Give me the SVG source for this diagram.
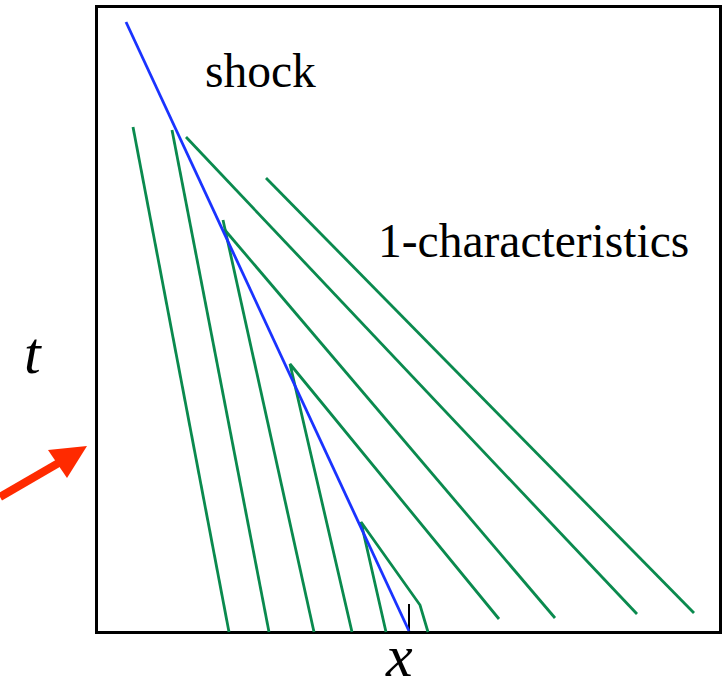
<svg xmlns="http://www.w3.org/2000/svg" width="722" height="689" viewBox="0 0 722 689">
<style>
.ch{stroke:#0a8a4e;stroke-width:2.8;fill:none}
.sh{stroke:#1a33ff;stroke-width:2.8;fill:none}
.lbl{font-family:"Liberation Serif",serif;fill:#000}
</style>
<rect x="0" y="0" width="722" height="689" fill="#fff"/>
<g id="frame">
<rect x="96.5" y="6.5" width="624" height="626" fill="none" stroke="#000" stroke-width="3"/>
<line x1="409" y1="604" x2="409" y2="632" stroke="#000" stroke-width="2"/>
</g>
<g id="characteristics">
<line class="ch" x1="133" y1="127" x2="229" y2="632"/>
<line class="ch" x1="172" y1="130" x2="269" y2="632"/>
<line class="ch" x1="186" y1="137" x2="637" y2="614"/>
<line class="ch" x1="266" y1="178" x2="694" y2="613"/>
<line class="ch" x1="314" y1="632" x2="223" y2="220"/>
<line class="ch" x1="224" y1="229" x2="555" y2="618"/>
<polyline class="ch" points="352,632 290,364 499,619"/>
<polyline class="ch" points="386,632 361,522 420,605 428,632"/>
</g>
<g id="shock">
<line class="sh" x1="126" y1="22" x2="409" y2="631"/>
</g>
<g id="arrow" fill="#ff2a00">
<line x1="0" y1="497" x2="62" y2="461" stroke="#ff2a00" stroke-width="8"/>
<polygon points="87,446 48,450 67,478"/>
</g>
<g id="labels">
<text class="lbl" x="205" y="87" font-size="47.5">shock</text>
<text class="lbl" x="378" y="257" font-size="47.5">1-characteristics</text>
<text class="lbl" x="24" y="373" font-size="60" font-style="italic">t</text>
<text class="lbl" x="386" y="676" font-size="60" font-style="italic">x</text>
</g>
</svg>
